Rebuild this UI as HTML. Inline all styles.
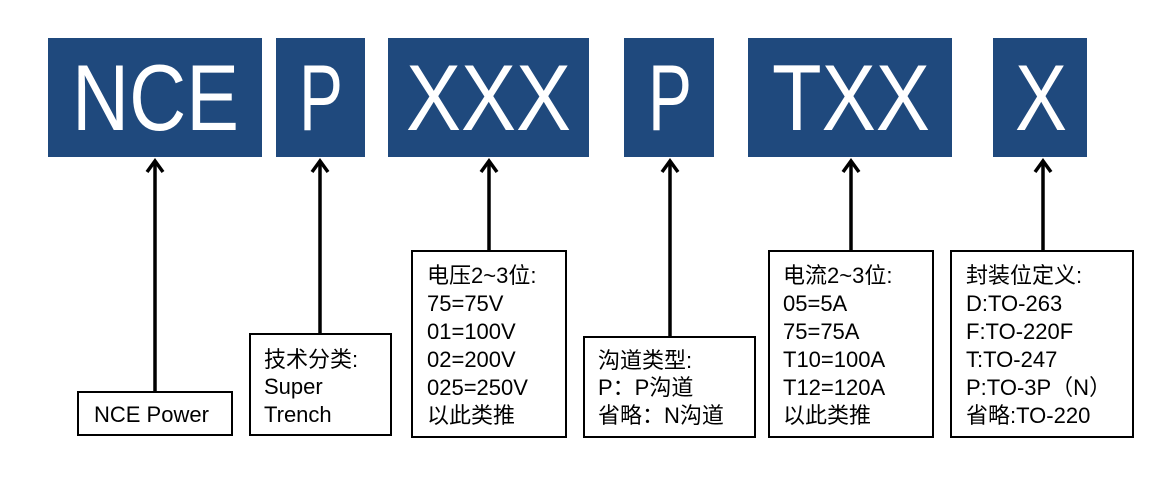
<!DOCTYPE html>
<html><head><meta charset="utf-8"><style>
html,body{margin:0;padding:0;background:#fff;}
svg{display:block;}
text{font-family:"Liberation Sans","Noto Sans CJK SC",sans-serif;}
</style></head><body>
<svg width="1176" height="502" viewBox="0 0 1176 502" xmlns="http://www.w3.org/2000/svg">
<g fill="#1f497d">
<rect x="48" y="38" width="214" height="119"/>
<rect x="276" y="38" width="89" height="119"/>
<rect x="388" y="38" width="201" height="119"/>
<rect x="624" y="38" width="90" height="119"/>
<rect x="748" y="38" width="204" height="119"/>
<rect x="993" y="38" width="94" height="119"/>
</g>
<g fill="#fff" font-size="94">
<text x="72" y="130" textLength="167" lengthAdjust="spacingAndGlyphs">NCE</text>
<text x="299" y="130" textLength="44" lengthAdjust="spacingAndGlyphs">P</text>
<text x="406" y="130" textLength="165" lengthAdjust="spacingAndGlyphs">XXX</text>
<text x="648" y="130" textLength="44" lengthAdjust="spacingAndGlyphs">P</text>
<text x="772" y="130" textLength="158" lengthAdjust="spacingAndGlyphs">TXX</text>
<text x="1015" y="130" textLength="52" lengthAdjust="spacingAndGlyphs">X</text>
</g>
<g stroke="#000" stroke-width="3.5" fill="none">
<line x1="155" y1="162" x2="155" y2="392"/><polyline points="147,172 155,161 163,172"/>
<line x1="320" y1="162" x2="320" y2="334"/><polyline points="312,172 320,161 328,172"/>
<line x1="489" y1="162" x2="489" y2="251"/><polyline points="481,172 489,161 497,172"/>
<line x1="670" y1="162" x2="670" y2="337"/><polyline points="662,172 670,161 678,172"/>
<line x1="851" y1="162" x2="851" y2="251"/><polyline points="843,172 851,161 859,172"/>
<line x1="1043" y1="162" x2="1043" y2="251"/><polyline points="1035,172 1043,161 1051,172"/>
</g>
<g stroke="#000" stroke-width="2" fill="#fff">
<rect x="78" y="392" width="154" height="43"/>
<rect x="250" y="334" width="141" height="101"/>
<rect x="412" y="251" width="154" height="186"/>
<rect x="584" y="337" width="171" height="100"/>
<rect x="769" y="251" width="164" height="186"/>
<rect x="951" y="251" width="182" height="186"/>
</g>
<g fill="#000" font-size="22">
<text x="94" y="422">NCE Power</text>
<text x="264" y="367">技术分类:</text>
<text x="264" y="394">Super</text>
<text x="264" y="422">Trench</text>
<text x="427" y="283">电压2~3位:</text>
<text x="427" y="311">75=75V</text>
<text x="427" y="339">01=100V</text>
<text x="427" y="367">02=200V</text>
<text x="427" y="395">025=250V</text>
<text x="427" y="423">以此类推</text>
<text x="598" y="368">沟道类型:</text>
<text x="598" y="395">P：P沟道</text>
<text x="598" y="423">省略：N沟道</text>
<text x="783" y="283">电流2~3位:</text>
<text x="783" y="311">05=5A</text>
<text x="783" y="339">75=75A</text>
<text x="783" y="367">T10=100A</text>
<text x="783" y="395">T12=120A</text>
<text x="783" y="423">以此类推</text>
<text x="966" y="283">封装位定义:</text>
<text x="966" y="311">D:TO-263</text>
<text x="966" y="339">F:TO-220F</text>
<text x="966" y="367">T:TO-247</text>
<text x="966" y="395">P:TO-3P（N）</text>
<text x="966" y="423">省略:TO-220</text>
</g>
</svg>
</body></html>
